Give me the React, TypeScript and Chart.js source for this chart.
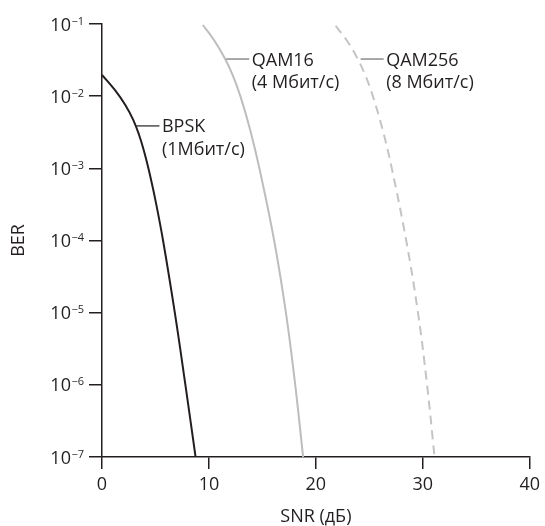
import React, { useEffect, useRef } from 'react';
import { Chart, registerables } from 'chart.js';

Chart.register(...registerables);

// ---- data ----
const X_TICKS = [0, 10, 20, 30, 40];
const Y_TICK_EXPONENTS = [-1, -2, -3, -4, -5, -6, -7];

const BPSK_SNR = [0, 1.2, 2.18, 2.92, 3.47, 3.9, 4.34, 4.99, 5.71, 6.81, 7.8, 8.75];
const BPSK_BER = [1.97e-2, 1.22e-2, 7.55e-3, 4.69e-3, 2.9e-3, 1.8e-3, 1e-3, 3.66e-4, 1e-4, 1e-5, 1e-6, 1e-7];

const QAM16_SNR = [9.43, 10.47, 11.47, 12.21, 12.94, 13.86, 14.72, 16.1, 17.2, 18.07, 18.81];
const QAM16_BER = [9.69e-2, 6.0e-2, 3.38e-2, 1.97e-2, 1e-2, 3.41e-3, 1e-3, 1e-4, 1e-5, 1e-6, 1e-7];

const QAM256_SNR = [21.85, 22.87, 23.87, 24.61, 25.33, 26.25, 27.1, 28.45, 29.55, 30.4, 31.1];
const QAM256_BER = [9.4e-2, 6.0e-2, 3.38e-2, 1.97e-2, 1e-2, 3.41e-3, 1e-3, 1e-4, 1e-5, 1e-6, 1e-7];

const SERIES_NAMES = ['BPSK', 'QAM16', 'QAM256'];
const SERIES_RATES = ['(1Мбит/с)', '(4 Мбит/с)', '(8 Мбит/с)'];
const LABEL_SNR = [3.22, 11.62, 24.19];
const LABEL_BER = [3.87e-3, 3.27e-2, 3.27e-2];

const X_TITLE = 'SNR (дБ)';
const Y_TITLE = 'BER';

// ---- styles ----
const INK = '#231f20';
const GRAY = '#bcbdbf';
const GRAY_DASH = '#c3c4c6';
const FONT = "'Open Sans', 'Noto Sans', sans-serif";

const toPoints = (xs: number[], ys: number[]) => xs.map((x, i) => ({ x, y: ys[i] }));

const labelPlugin = {
  id: 'customLabels',
  afterDraw(chart: any) {
    const ctx = chart.ctx as CanvasRenderingContext2D;
    const xs = chart.scales.x;
    const ys = chart.scales.y;
    const axisX = chart.chartArea.left;
    ctx.save();
    ctx.fillStyle = INK;
    ctx.strokeStyle = INK;

    // y tick labels with superscript exponents
    ys.ticks.forEach((t: any) => {
      const py = ys.getPixelForValue(t.value);
      const exp = Math.round(Math.log10(t.value));
      const sup = (exp < 0 ? '\u2212' : '') + Math.abs(exp);
      const right = axisX - 18;
      ctx.textAlign = 'right';
      ctx.textBaseline = 'alphabetic';
      ctx.font = `11px ${FONT}`;
      ctx.fillText(sup, right, py + 0.5);
      const w = ctx.measureText(sup).width;
      ctx.font = `18px ${FONT}`;
      ctx.fillText('10', right - w - 0.5, py + 6.5);
    });

    // series labels with leader lines
    ctx.lineWidth = 1.2;
    for (let i = 0; i < SERIES_NAMES.length; i++) {
      const px = xs.getPixelForValue(LABEL_SNR[i]);
      const py = ys.getPixelForValue(LABEL_BER[i]);
      ctx.strokeStyle = i === 0 ? INK : '#6d6e70';
      ctx.beginPath();
      ctx.moveTo(px, py);
      ctx.lineTo(px + 23, py);
      ctx.stroke();
      ctx.font = `18px ${FONT}`;
      ctx.textAlign = 'left';
      ctx.textBaseline = 'alphabetic';
      ctx.fillStyle = INK;
      ctx.fillText(SERIES_NAMES[i], px + 25.5, py + 6.5);
      ctx.fillText(SERIES_RATES[i], px + 25.5, py + 29);
    }
    ctx.restore();
  },
};

export default function App() {
  const ref = useRef<HTMLCanvasElement>(null);

  useEffect(() => {
    const canvas = ref.current;
    if (!canvas) return;
    const chart = new Chart(canvas, {
      type: 'line',
      data: {
        datasets: [
          {
            label: SERIES_NAMES[0],
            data: toPoints(BPSK_SNR, BPSK_BER),
            borderColor: INK,
            borderWidth: 2,
            tension: 0.4,
          },
          {
            label: SERIES_NAMES[1],
            data: toPoints(QAM16_SNR, QAM16_BER),
            borderColor: GRAY,
            borderWidth: 2,
            tension: 0.4,
          },
          {
            label: SERIES_NAMES[2],
            data: toPoints(QAM256_SNR, QAM256_BER),
            borderColor: GRAY_DASH,
            borderWidth: 2,
            borderDash: [9, 6],
            tension: 0.4,
          },
        ] as any,
      },
      options: {
        responsive: false,
        animation: false,
        events: [],
        layout: { padding: { left: 0, top: 24, right: 11, bottom: 0 } },
        elements: { point: { radius: 0 } },
        plugins: {
          legend: { display: false },
          tooltip: { enabled: false },
        },
        scales: {
          x: {
            type: 'linear',
            min: 0,
            max: 40,
            afterBuildTicks: (scale: any) => {
              scale.ticks = X_TICKS.map((v) => ({ value: v }));
            },
            afterFit: (scale: any) => {
              scale.height = 69;
            },
            grid: {
              drawOnChartArea: false,
              drawTicks: true,
              tickLength: 12,
              color: INK,
              lineWidth: 1.5,
            },
            border: { display: true, color: INK, width: 1.5 },
            ticks: {
              color: INK,
              font: { family: FONT, size: 18 },
              padding: 5,
              maxRotation: 0,
              autoSkip: false,
            },
            title: {
              display: true,
              text: X_TITLE,
              color: INK,
              font: { family: FONT, size: 18, lineHeight: 1 },
              padding: { top: 0, bottom: 0 },
            },
          },
          y: {
            type: 'logarithmic',
            min: 1e-7,
            max: 1e-1,
            afterBuildTicks: (scale: any) => {
              scale.ticks = Y_TICK_EXPONENTS.map((e) => ({ value: Math.pow(10, e) }));
            },
            afterFit: (scale: any) => {
              scale.width = 102;
            },
            grid: {
              drawOnChartArea: false,
              drawTicks: true,
              tickLength: 13,
              color: INK,
              lineWidth: 1.5,
            },
            border: { display: true, color: INK, width: 1.5 },
            ticks: { display: false },
            title: {
              display: true,
              text: Y_TITLE,
              color: INK,
              font: { family: FONT, size: 18, lineHeight: 1 },
              padding: { top: 10, bottom: 0 },
            },
          },
        },
      } as any,
      plugins: [labelPlugin],
    });
    return () => chart.destroy();
  }, []);

  return (
    <div style={{ position: 'absolute', left: 0, top: 0, width: 545, height: 526, background: '#fff' }}>
      <canvas ref={ref} width={545} height={526} style={{ display: 'block', width: 545, height: 526 }} />
    </div>
  );
}
